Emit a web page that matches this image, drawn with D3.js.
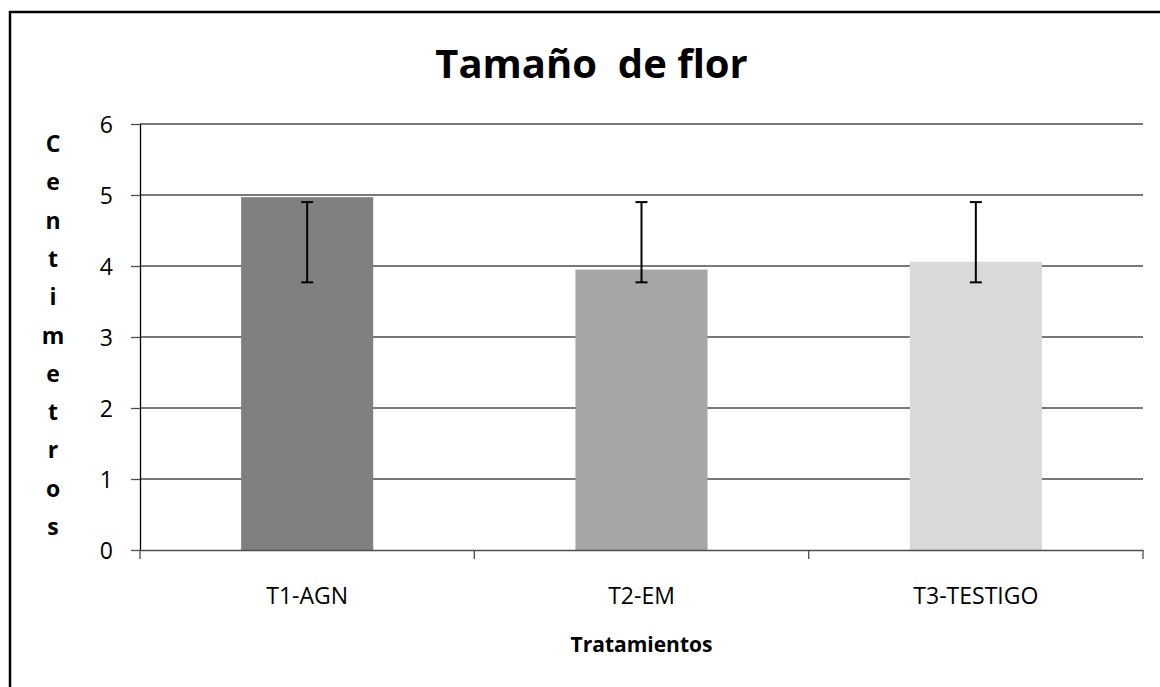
<!DOCTYPE html>
<html>
<head>
<meta charset="utf-8">
<script src="https://cdn.jsdelivr.net/npm/d3@7"></script>
<style>
  body { margin: 0; background: #fff; }
  svg text { font-family: 'Open Sans', 'Noto Sans', sans-serif; fill: #000; }
</style>
</head>
<body>
<div id="grafico"></div>
<script>
const tratamientos = ['T1-AGN', 'T2-EM', 'T3-TESTIGO']
const medias = [4.97, 3.95, 4.06]
const errorBajo = [3.77, 3.77, 3.77]
const errorAlto = [4.9, 4.9, 4.9]
const colores = ['#808080', '#a6a6a6', '#d9d9d9']
const yTicks = [0, 1, 2, 3, 4, 5, 6]
const tituloY = 'Centimetros'

const width = 1160
const height = 687
const margin = { top: 124, right: 17, bottom: 137, left: 140 }

const svg = d3.select('#grafico')
              .append('svg')
              .attr('width', width)
              .attr('height', height)

// marco del grafico (solo se ven borde izquierdo y superior)
svg.append('rect')
   .attr('x', 10)
   .attr('y', 12)
   .attr('width', 1300)
   .attr('height', 900)
   .attr('fill', 'none')
   .attr('stroke', '#000')
   .attr('stroke-width', 2.5)

const y = d3.scaleLinear()
            .domain([0, 6])
            .range([height - margin.bottom, margin.top])

const xCat = d3.scaleBand()
               .domain(tratamientos)
               .range([margin.left, width - margin.right])
               .padding(0)

const x = d3.scaleBand()
            .domain(tratamientos)
            .range([margin.left, width - margin.right])
            .paddingInner(0.605)
            .paddingOuter(0.3025)

// lineas de division
svg.append('g')
   .selectAll('line')
   .data(yTicks.slice(1))
   .enter()
   .append('line')
   .attr('x1', margin.left)
   .attr('x2', width - margin.right)
   .attr('y1', d => y(d))
   .attr('y2', d => y(d))
   .attr('stroke', '#4d4d4d')
   .attr('stroke-width', 1.3)

// barras
svg.append('g')
   .selectAll('rect')
   .data(tratamientos)
   .enter()
   .append('rect')
   .attr('x', d => x(d))
   .attr('y', (d, i) => y(medias[i]))
   .attr('width', x.bandwidth())
   .attr('height', (d, i) => y(0) - y(medias[i]))
   .style('fill', (d, i) => colores[i])

// eje Y
const ejeY = svg.append('g')
                .attr('transform', `translate(${margin.left},0)`)
                .call(d3.axisLeft(y).tickValues(yTicks).tickFormat(d3.format('d')).tickSize(9).tickPadding(18).tickSizeOuter(0))
ejeY.select('.domain').attr('stroke', '#000').attr('stroke-width', 1.3)
ejeY.selectAll('.tick line').attr('stroke', '#4d4d4d').attr('stroke-width', 1.3)
ejeY.selectAll('.tick text')
    .style('font-size', '23px')
    .attr('fill', '#1a1a1a')
    .attr('dy', '0.36em')

// eje X
const ejeX = svg.append('g')
                .attr('transform', `translate(0,${y(0)})`)
                .call(d3.axisBottom(xCat).tickSize(0).tickPadding(38))
ejeX.select('.domain').attr('stroke', '#4d4d4d').attr('stroke-width', 1.3)
ejeX.selectAll('.tick text')
    .style('font-size', '23px')
    .attr('fill', '#1a1a1a')

// marcas entre categorias
const limites = tratamientos.map(d => xCat(d)).concat([xCat(tratamientos[2]) + xCat.bandwidth()])
ejeX.selectAll('.limite')
    .data(limites)
    .enter()
    .append('line')
    .attr('class', 'limite')
    .attr('x1', d => d)
    .attr('x2', d => d)
    .attr('y1', 0)
    .attr('y2', 9)
    .attr('stroke', '#4d4d4d')
    .attr('stroke-width', 1.3)

// barras de error
const error = svg.append('g')
                 .selectAll('g')
                 .data(tratamientos)
                 .enter()
                 .append('g')
                 .attr('transform', d => `translate(${x(d) + x.bandwidth() / 2},0)`)

error.append('line')
     .attr('y1', (d, i) => y(errorBajo[i]))
     .attr('y2', (d, i) => y(errorAlto[i]))
     .attr('stroke', '#000')
     .attr('stroke-width', 2)

error.selectAll('.cap')
     .data((d, i) => [errorBajo[i], errorAlto[i]])
     .enter()
     .append('line')
     .attr('class', 'cap')
     .attr('x1', -6)
     .attr('x2', 6)
     .attr('y1', d => y(d))
     .attr('y2', d => y(d))
     .attr('stroke', '#000')
     .attr('stroke-width', 2)

// titulo
svg.append('text')
   .attr('x', margin.left + (width - margin.right - margin.left) / 2 - 50)
   .attr('y', 78)
   .attr('text-anchor', 'middle')
   .style('white-space', 'pre')
   .style('font-size', '40px')
   .style('font-weight', 'bold')
   .text('Tamaño  de flor')

// titulo eje X
svg.append('text')
   .attr('x', margin.left + (width - margin.right - margin.left) / 2)
   .attr('y', 652)
   .attr('text-anchor', 'middle')
   .style('font-size', '21px')
   .style('font-weight', 'bold')
   .text('Tratamientos')

// titulo eje Y, letras apiladas
svg.append('text')
   .attr('text-anchor', 'middle')
   .style('font-size', '23px')
   .style('font-weight', 'bold')
   .selectAll('tspan')
   .data(tituloY.split(''))
   .enter()
   .append('tspan')
   .attr('x', 53)
   .attr('y', (d, i) => 152 + i * 38.3)
   .text(d => d)
</script>
</body>
</html>
